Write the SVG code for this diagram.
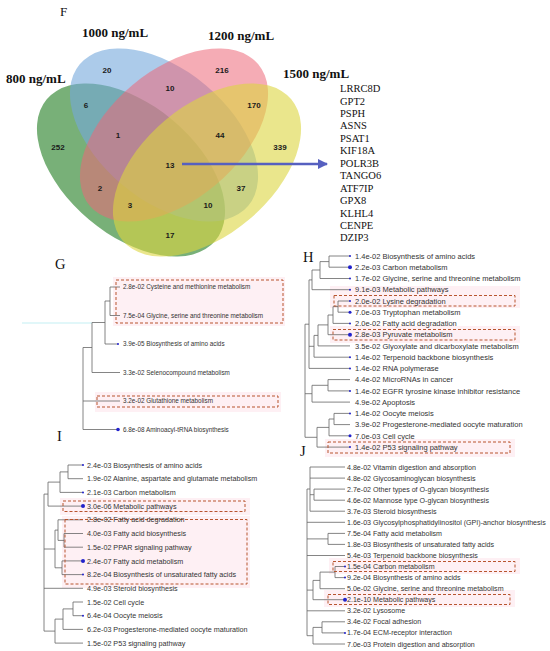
<svg xmlns="http://www.w3.org/2000/svg" width="550" height="651" viewBox="0 0 550 651">
<defs>
<style>
.num{font-family:"Liberation Sans",Arial,sans-serif;font-weight:bold;font-size:8px;fill:#1a1a1a;text-anchor:middle}
.setl{font-family:"Liberation Serif","Times New Roman",serif;font-weight:bold;font-size:13px;fill:#111}
.pl{font-family:"Liberation Serif","Times New Roman",serif;font-size:14.5px;fill:#111}
.gene{font-family:"Liberation Serif","Times New Roman",serif;font-size:10.5px;fill:#111}
.tg{font-family:"Liberation Sans",Arial,sans-serif;font-size:6.35px;fill:#333}
.th{font-family:"Liberation Sans",Arial,sans-serif;font-size:7.5px;fill:#333}
.ti{font-family:"Liberation Sans",Arial,sans-serif;font-size:7.2px;fill:#333}
.tj{font-family:"Liberation Sans",Arial,sans-serif;font-size:7.1px;fill:#333}
.tree{fill:none;stroke:#666;stroke-width:0.8}
.hl{fill:#fef0f4}
.box{fill:none;stroke:#b8552f;stroke-width:1;stroke-dasharray:3 2}
.dot{fill:#2222cc}
</style>
<marker id="arr" viewBox="0 0 10 10" refX="9" refY="5" markerWidth="4" markerHeight="4" orient="auto" markerUnits="strokeWidth">
<path d="M0,0 L10,5 L0,10 z" fill="#5660c0"/>
</marker>
</defs>
<rect width="550" height="651" fill="#fff"/>

<!-- Panel F: Venn -->
<text class="pl" x="60" y="16" style="font-size:13px">F</text>
<g id="set-800">
<ellipse cx="131" cy="170" rx="110" ry="65" transform="rotate(40 131 170)" fill="#3f8f3f" fill-opacity="0.7"/>
<text class="setl" x="6" y="83">800 ng/mL</text>
</g>
<g id="set-1000">
<ellipse cx="164" cy="135" rx="110" ry="65" transform="rotate(40 164 135)" fill="#74a9dc" fill-opacity="0.6"/>
<text class="setl" x="82" y="37">1000 ng/mL</text>
</g>
<g id="set-1200">
<ellipse cx="174" cy="135" rx="110" ry="65" transform="rotate(-40 174 135)" fill="#ec6878" fill-opacity="0.55"/>
<text class="setl" x="208" y="40">1200 ng/mL</text>
</g>
<g id="set-1500">
<ellipse cx="207" cy="170" rx="110" ry="65" transform="rotate(-40 207 170)" fill="#dcd640" fill-opacity="0.6"/>
<text class="setl" x="283" y="78">1500 ng/mL</text>
</g>
<g id="venn-counts">
<text class="num" x="107" y="73">20</text>
<text class="num" x="222" y="73">216</text>
<text class="num" x="170" y="91">10</text>
<text class="num" x="86" y="108">6</text>
<text class="num" x="254" y="108">170</text>
<text class="num" x="118" y="138">1</text>
<text class="num" x="220" y="138">44</text>
<text class="num" x="58" y="150">252</text>
<text class="num" x="280" y="150">339</text>
<text class="num" x="170" y="168">13</text>
<text class="num" x="100" y="191">2</text>
<text class="num" x="241" y="191">37</text>
<text class="num" x="130" y="208">3</text>
<text class="num" x="208" y="208">10</text>
<text class="num" x="170" y="238">17</text>
</g>
<g id="gene-list">
<text class="gene" x="340" y="92">LRRC8D</text>
<text class="gene" x="340" y="104.5">GPT2</text>
<text class="gene" x="340" y="116.9">PSPH</text>
<text class="gene" x="340" y="129.4">ASNS</text>
<text class="gene" x="340" y="141.8">PSAT1</text>
<text class="gene" x="340" y="154.3">KIF18A</text>
<text class="gene" x="340" y="166.7">POLR3B</text>
<text class="gene" x="340" y="179.2">TANGO6</text>
<text class="gene" x="340" y="191.6">ATF7IP</text>
<text class="gene" x="340" y="204.1">GPX8</text>
<text class="gene" x="340" y="216.5">KLHL4</text>
<text class="gene" x="340" y="229">CENPE</text>
<text class="gene" x="340" y="241.4">DZIP3</text>
</g>

<!-- highlights -->
<g id="highlights">
<rect class="hl" x="113" y="277" width="172" height="49"/>
<rect class="hl" x="95" y="392" width="186" height="20"/>
<rect class="hl" x="330" y="286" width="190" height="22"/>
<rect class="hl" x="330" y="326" width="190" height="17"/>
<rect class="hl" x="325" y="439" width="190" height="18"/>
<rect class="hl" x="60" y="498" width="190" height="17"/>
<rect class="hl" x="62" y="516" width="188" height="72"/>
<rect class="hl" x="329" y="558" width="191" height="16"/>
<rect class="hl" x="324" y="590" width="191" height="17"/>
</g>

<!-- connectors -->
<g id="connectors">
<line x1="182" y1="164" x2="327" y2="164" stroke="#5660c0" stroke-width="2.6" marker-end="url(#arr)"/>
<line x1="22" y1="323" x2="92" y2="323" stroke="#c4eff3" stroke-width="1.2"/>
<path class="tree" d="M110 287 V315.5 M110 287 H120 M110 315.5 H120 M105 301 V344 M105 301 H110 M105 344 H118 M92 322.5 V372.5 M92 322.5 H105 M92 372.5 H120 M83 347.5 V429.5 M83 347.5 H92 M83 401 H120 M83 429.5 H118"/>
<path class="tree" d="M329 256 V267.2 M329 256 H350 M329 267.2 H350 M320 261.6 V278.5 M320 261.6 H329 M320 278.5 H350 M312 270 V289.7 M312 270 H320 M312 289.7 H350 M338 301 V312.2 M338 301 H350 M338 312.2 H350 M333 306.6 V323.4 M333 306.6 H338 M333 323.4 H350 M328 315 V334.7 M328 315 H333 M328 334.7 H350 M318 324.9 V345.9 M318 324.9 H328 M318 345.9 H350 M314 335.4 V357.2 M314 335.4 H318 M314 357.2 H350 M309 279.9 V368.4 M309 279.9 H312 M309 346.3 H314 M309 368.4 H350 M328 379.6 V390.9 M328 379.6 H350 M328 390.9 H350 M312 385.3 V402.1 M312 385.3 H328 M312 402.1 H350 M334 413.4 V424.6 M334 413.4 H350 M334 424.6 H350 M329 419 V435.8 M329 419 H334 M329 435.8 H350 M317 427.4 V447.1 M317 427.4 H329 M317 447.1 H350 M305 324.2 V437.3 M305 324.2 H309 M305 393.7 H312 M305 437.3 H317"/>
<path class="tree" d="M68 465 V478.7 M68 465 H83 M68 478.7 H83 M60 471.9 V492.4 M60 471.9 H68 M60 492.4 H83 M48 482.1 V506.1 M48 482.1 H60 M48 506.1 H83 M64 533.5 V547.2 M64 533.5 H83 M64 547.2 H83 M58 519.8 V540.4 M58 519.8 H83 M58 540.4 H64 M62 560.9 V574.6 M62 560.9 H83 M62 574.6 H83 M55 530.1 V567.8 M55 530.1 H58 M55 567.8 H62 M73 602 V615.7 M73 602 H83 M73 615.7 H83 M63 608.9 V629.4 M63 608.9 H73 M63 629.4 H83 M55 619.1 V643.1 M55 619.1 H63 M55 643.1 H83 M44 494.1 V631.1 M44 494.1 H48 M44 549 H55 M44 588.3 H83 M44 631.1 H55"/>
<path class="tree" d="M314 489.1 V500.2 M314 489.1 H345 M314 500.2 H345 M310 467 V511.2 M310 467 H345 M310 478.1 H345 M310 494.7 H314 M310 511.2 H345 M328 533.4 V544.4 M328 533.4 H345 M328 544.4 H345 M335 566.5 V577.6 M335 566.5 H345 M335 577.6 H345 M320 572.1 V588.7 M320 572.1 H335 M320 588.7 H345 M313 580.4 V599.7 M313 580.4 H320 M313 599.7 H345 M322 621.8 V632.9 M322 621.8 H345 M322 632.9 H345 M313 627.4 V644 M313 627.4 H322 M313 644 H345 M307 489 V635.7 M307 489 H310 M307 522.3 H345 M307 538.9 H328 M307 555.5 H345 M307 590.1 H313 M307 610.8 H345 M307 635.7 H313"/>
</g>

<!-- dashed boxes -->
<g id="boxes">
<rect class="box" x="116" y="280" width="167" height="43"/>
<rect class="box" x="97" y="396" width="181" height="11"/>
<rect class="box" x="334" y="295.5" width="181" height="10.5"/>
<rect class="box" x="333" y="329.5" width="182" height="10.5"/>
<rect class="box" x="328" y="442" width="182" height="11"/>
<rect class="box" x="63" y="501" width="182" height="10.5"/>
<rect class="box" x="65" y="519.5" width="182" height="64.5"/>
<rect class="box" x="333" y="561.5" width="182" height="10"/>
<rect class="box" x="328" y="594.5" width="182" height="10"/>
</g>

<!-- Panel G -->
<text class="pl" x="55" y="269">G</text>
<g id="g-leaf-0"><text class="tg" x="123" y="289.3">2.8e-02 Cysteine and methionine metabolism</text></g>
<g id="g-leaf-1"><text class="tg" x="123" y="317.8">7.5e-04 Glycine, serine and threonine metabolism</text></g>
<g id="g-leaf-2"><circle class="dot" cx="118" cy="344" r="1"/><text class="tg" x="123" y="346.3">3.9e-05 Biosynthesis of amino acids</text></g>
<g id="g-leaf-3"><text class="tg" x="123" y="374.8">3.3e-02 Selenocompound metabolism</text></g>
<g id="g-leaf-4"><text class="tg" x="123" y="403.3">3.2e-02 Glutathione metabolism</text></g>
<g id="g-leaf-5"><circle class="dot" cx="118" cy="429.5" r="1.8"/><text class="tg" x="123" y="431.8">6.8e-08 Aminoacyl-tRNA biosynthesis</text></g>

<!-- Panel H -->
<text class="pl" x="303" y="262">H</text>
<g id="h-leaf-0"><circle class="dot" cx="350" cy="256" r="1"/><text class="th" x="355" y="258.7">1.4e-02 Biosynthesis of amino acids</text></g>
<g id="h-leaf-1"><circle class="dot" cx="350" cy="267.2" r="2"/><text class="th" x="355" y="269.9">2.2e-03 Carbon metabolism</text></g>
<g id="h-leaf-2"><circle class="dot" cx="350" cy="278.5" r="1"/><text class="th" x="355" y="281.2">1.7e-02 Glycine, serine and threonine metabolism</text></g>
<g id="h-leaf-3"><circle class="dot" cx="350" cy="289.7" r="1"/><text class="th" x="355" y="292.4">9.1e-03 Metabolic pathways</text></g>
<g id="h-leaf-4"><circle class="dot" cx="350" cy="301" r="1"/><text class="th" x="355" y="303.7">2.0e-02 Lysine degradation</text></g>
<g id="h-leaf-5"><circle class="dot" cx="350" cy="312.2" r="1.5"/><text class="th" x="355" y="314.9">7.0e-03 Tryptophan metabolism</text></g>
<g id="h-leaf-6"><circle class="dot" cx="350" cy="323.4" r="1"/><text class="th" x="355" y="326.1">2.0e-02 Fatty acid degradation</text></g>
<g id="h-leaf-7"><circle class="dot" cx="350" cy="334.7" r="2"/><text class="th" x="355" y="337.4">2.8e-03 Pyruvate metabolism</text></g>
<g id="h-leaf-8"><text class="th" x="355" y="348.6">3.5e-02 Glyoxylate and dicarboxylate metabolism</text></g>
<g id="h-leaf-9"><circle class="dot" cx="350" cy="357.2" r="1"/><text class="th" x="355" y="359.9">1.4e-02 Terpenoid backbone biosynthesis</text></g>
<g id="h-leaf-10"><circle class="dot" cx="350" cy="368.4" r="1"/><text class="th" x="355" y="371.1">1.4e-02 RNA polymerase</text></g>
<g id="h-leaf-11"><text class="th" x="355" y="382.3">4.4e-02 MicroRNAs in cancer</text></g>
<g id="h-leaf-12"><circle class="dot" cx="350" cy="390.9" r="1"/><text class="th" x="355" y="393.6">1.4e-02 EGFR tyrosine kinase inhibitor resistance</text></g>
<g id="h-leaf-13"><text class="th" x="355" y="404.8">4.9e-02 Apoptosis</text></g>
<g id="h-leaf-14"><circle class="dot" cx="350" cy="413.4" r="1"/><text class="th" x="355" y="416.1">1.4e-02 Oocyte meiosis</text></g>
<g id="h-leaf-15"><text class="th" x="355" y="427.3">3.9e-02 Progesterone-mediated oocyte maturation</text></g>
<g id="h-leaf-16"><circle class="dot" cx="350" cy="435.8" r="1.5"/><text class="th" x="355" y="438.5">7.0e-03 Cell cycle</text></g>
<g id="h-leaf-17"><circle class="dot" cx="350" cy="447.1" r="1"/><text class="th" x="355" y="449.8">1.4e-02 P53 signaling pathway</text></g>

<!-- Panel I -->
<text class="pl" x="57" y="441">I</text>
<g id="i-leaf-0"><circle class="dot" cx="83" cy="465" r="1"/><text class="ti" x="87" y="467.6">2.4e-03 Biosynthesis of amino acids</text></g>
<g id="i-leaf-1"><text class="ti" x="87" y="481.3">1.9e-02 Alanine, aspartate and glutamate metabolism</text></g>
<g id="i-leaf-2"><circle class="dot" cx="83" cy="492.4" r="1"/><text class="ti" x="87" y="495">2.1e-03 Carbon metabolism</text></g>
<g id="i-leaf-3"><circle class="dot" cx="83" cy="506.1" r="2"/><text class="ti" x="87" y="508.7">3.0e-06 Metabolic pathways</text></g>
<g id="i-leaf-4"><text class="ti" x="87" y="522.4">2.8e-02 Fatty acid degradation</text></g>
<g id="i-leaf-5"><text class="ti" x="87" y="536.1">4.0e-03 Fatty acid biosynthesis</text></g>
<g id="i-leaf-6"><text class="ti" x="87" y="549.8">1.5e-02 PPAR signaling pathway</text></g>
<g id="i-leaf-7"><circle class="dot" cx="83" cy="560.9" r="2"/><text class="ti" x="87" y="563.5">2.4e-07 Fatty acid metabolism</text></g>
<g id="i-leaf-8"><circle class="dot" cx="83" cy="574.6" r="1"/><text class="ti" x="87" y="577.2">8.2e-04 Biosynthesis of unsaturated fatty acids</text></g>
<g id="i-leaf-9"><text class="ti" x="87" y="590.9">4.9e-03 Steroid biosynthesis</text></g>
<g id="i-leaf-10"><text class="ti" x="87" y="604.6">1.5e-02 Cell cycle</text></g>
<g id="i-leaf-11"><circle class="dot" cx="83" cy="615.7" r="1"/><text class="ti" x="87" y="618.3">6.4e-04 Oocyte meiosis</text></g>
<g id="i-leaf-12"><text class="ti" x="87" y="632">6.2e-03 Progesterone-mediated oocyte maturation</text></g>
<g id="i-leaf-13"><text class="ti" x="87" y="645.7">1.5e-02 P53 signaling pathway</text></g>

<!-- Panel J -->
<text class="pl" x="300" y="456">J</text>
<g id="j-leaf-0"><text class="tj" x="347" y="469.5">4.8e-02 Vitamin digestion and absorption</text></g>
<g id="j-leaf-1"><text class="tj" x="347" y="480.6">4.8e-02 Glycosaminoglycan biosynthesis</text></g>
<g id="j-leaf-2"><text class="tj" x="347" y="491.6">2.7e-02 Other types of O-glycan biosynthesis</text></g>
<g id="j-leaf-3"><text class="tj" x="347" y="502.7">4.6e-02 Mannose type O-glycan biosynthesis</text></g>
<g id="j-leaf-4"><text class="tj" x="347" y="513.7">3.7e-03 Steroid biosynthesis</text></g>
<g id="j-leaf-5"><text class="tj" x="347" y="524.8">1.6e-03 Glycosylphosphatidylinositol (GPI)-anchor biosynthesis</text></g>
<g id="j-leaf-6"><text class="tj" x="347" y="535.9">7.5e-04 Fatty acid metabolism</text></g>
<g id="j-leaf-7"><text class="tj" x="347" y="546.9">1.8e-03 Biosynthesis of unsaturated fatty acids</text></g>
<g id="j-leaf-8"><text class="tj" x="347" y="558">5.4e-03 Terpenoid backbone biosynthesis</text></g>
<g id="j-leaf-9"><circle class="dot" cx="345" cy="566.5" r="1"/><text class="tj" x="347" y="569">1.5e-04 Carbon metabolism</text></g>
<g id="j-leaf-10"><circle class="dot" cx="345" cy="577.6" r="1"/><text class="tj" x="347" y="580.1">9.2e-04 Biosynthesis of amino acids</text></g>
<g id="j-leaf-11"><text class="tj" x="347" y="591.2">5.0e-02 Glycine, serine and threonine metabolism</text></g>
<g id="j-leaf-12"><circle class="dot" cx="345" cy="599.7" r="2"/><text class="tj" x="347" y="602.2">2.1e-10 Metabolic pathways</text></g>
<g id="j-leaf-13"><text class="tj" x="347" y="613.3">3.2e-02 Lysosome</text></g>
<g id="j-leaf-14"><text class="tj" x="347" y="624.3">3.4e-02 Focal adhesion</text></g>
<g id="j-leaf-15"><circle class="dot" cx="345" cy="632.9" r="1"/><text class="tj" x="347" y="635.4">1.7e-04 ECM-receptor interaction</text></g>
<g id="j-leaf-16"><text class="tj" x="347" y="646.5">7.0e-03 Protein digestion and absorption</text></g>
</svg>
